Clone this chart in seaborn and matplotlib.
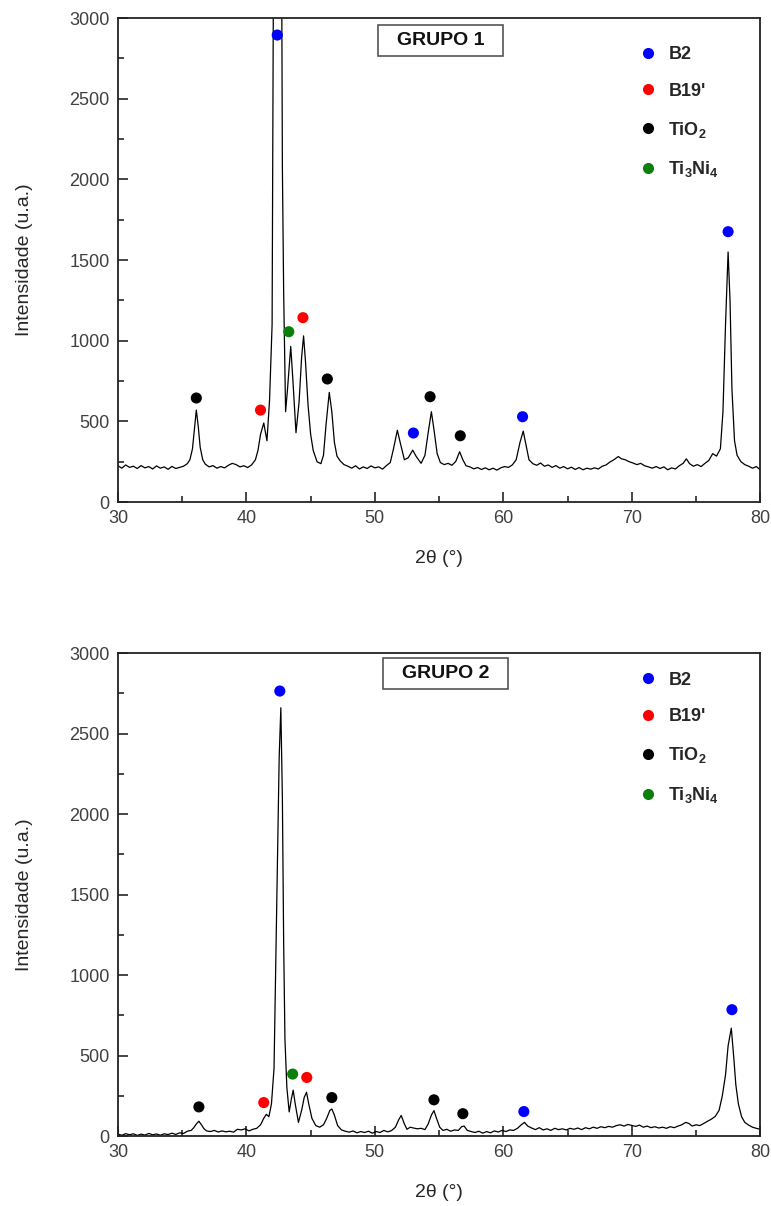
import numpy as np
import pandas as pd
import matplotlib
matplotlib.use('Agg')
import matplotlib.pyplot as plt
import seaborn as sns
from matplotlib.patches import Rectangle
from matplotlib.ticker import MultipleLocator

sns.set_style('ticks')
plt.rcParams['font.family'] = ['Liberation Sans', 'DejaVu Sans']
plt.rcParams['mathtext.fontset'] = 'custom'
plt.rcParams['mathtext.rm'] = 'Liberation Sans'
plt.rcParams['mathtext.bf'] = 'Liberation Sans:bold'
plt.rcParams['mathtext.default'] = 'bf'

# fases (rótulos da legenda) e cores
fases = ['B2', "B19'", 'TiO$_2$', 'Ti$_3$Ni$_4$']
cores = {'B2': '#0000ff', "B19'": '#ff0000', 'TiO$_2$': '#000000', 'Ti$_3$Ni$_4$': '#0a800a'}

# Grupo 1 - difratograma
g1_x = [30.0, 30.3, 30.6, 30.9, 31.2, 31.5, 31.8, 32.1, 32.4, 32.7, 33.0, 33.3, 33.6, 33.9,
        34.2, 34.5, 34.8, 35.1, 35.4, 35.6, 35.8, 35.95, 36.1, 36.25, 36.4, 36.6, 36.8,
        37.1, 37.4, 37.7, 38.0, 38.3, 38.6, 38.9, 39.2, 39.5, 39.8, 40.1, 40.4, 40.7, 40.9,
        41.1, 41.35, 41.6, 41.8, 42.0, 42.1, 42.4, 42.75, 42.8, 42.9, 43.05, 43.2, 43.45,
        43.6, 43.86, 44.1, 44.3, 44.45, 44.6, 44.8, 45.0, 45.2, 45.5, 45.8, 46.0, 46.2,
        46.45, 46.65, 46.85, 47.05, 47.3, 47.6, 47.9, 48.2, 48.5, 48.8, 49.1, 49.4, 49.7,
        50.0, 50.3, 50.6, 50.9, 51.2, 51.45, 51.75, 52.0, 52.3, 52.6, 52.95, 53.2, 53.6,
        53.9, 54.15, 54.4, 54.6, 54.85, 55.1, 55.4, 55.7, 56.0, 56.3, 56.6, 56.85, 57.1,
        57.4, 57.7, 58.0, 58.3, 58.6, 58.9, 59.2, 59.5, 59.8, 60.1, 60.4, 60.7, 61.0, 61.3,
        61.55, 61.8, 62.0, 62.3, 62.6, 62.9, 63.2, 63.5, 63.8, 64.1, 64.4, 64.7, 65.0, 65.3,
        65.6, 65.9, 66.2, 66.5, 66.8, 67.1, 67.4, 67.7, 68.0, 68.3, 68.6, 68.95, 69.2, 69.5,
        69.8, 70.1, 70.4, 70.7, 71.0, 71.3, 71.6, 71.9, 72.2, 72.5, 72.8, 73.1, 73.4, 73.7,
        74.0, 74.25, 74.5, 74.8, 75.1, 75.4, 75.7, 76.0, 76.3, 76.6, 76.9, 77.1, 77.3, 77.5,
        77.65, 77.8, 78.0, 78.2, 78.5, 78.8, 79.1, 79.4, 79.7, 80.0]
g1_y = [225, 210, 230, 215, 222, 208, 226, 212, 220, 205, 224, 210, 218, 203,
        221, 208, 215, 222, 238, 262, 330, 450, 570, 470, 340, 262, 235,
        218, 226, 210, 220, 212, 228, 240, 232, 218, 225, 214, 230, 262, 320,
        420, 490, 380, 630, 1100, 3200, 6000, 3200, 2080, 1300, 560, 700, 965,
        780, 430, 620, 900, 1030, 870, 600, 420, 320, 250, 238, 290, 480,
        680, 560, 370, 285, 255, 232, 222, 210, 225, 205, 218, 208, 224,
        212, 218, 204, 226, 245, 330, 445, 360, 262, 275, 322, 285, 240,
        290, 430, 560, 450, 300, 245, 232, 240, 228, 252, 312, 262, 225,
        218, 206, 214, 202, 212, 200, 210, 198, 212, 220, 215, 230, 262, 370,
        440, 340, 262, 238, 228, 242, 222, 230, 215, 226, 210, 220, 206, 216,
        202, 214, 200, 210, 204, 212, 205, 222, 230, 248, 262, 282, 268, 262,
        250, 242, 232, 240, 225, 218, 210, 220, 208, 218, 200, 212, 205, 225,
        240, 268, 238, 222, 232, 220, 240, 258, 300, 285, 330, 560, 1100, 1550,
        1250, 700, 380, 290, 250, 232, 222, 210, 220, 200]

# Grupo 2 - difratograma
g2_x = [30.0, 30.3, 30.6, 30.9, 31.2, 31.5, 31.8, 32.1, 32.4, 32.7, 33.0, 33.3, 33.6, 33.9,
        34.2, 34.5, 34.8, 35.1, 35.4, 35.7, 35.9, 36.1, 36.3, 36.5, 36.7, 36.9, 37.2, 37.5,
        37.8, 38.1, 38.4, 38.7, 39.0, 39.3, 39.6, 39.9, 40.2, 40.5, 40.8, 41.1, 41.35, 41.55,
        41.75, 41.95, 42.15, 42.35, 42.55, 42.68, 42.8, 42.9, 43.0, 43.15, 43.33, 43.5, 43.64,
        43.8, 44.05, 44.3, 44.5, 44.68, 44.85, 45.1, 45.4, 45.7, 46.0, 46.25, 46.5, 46.65,
        46.85, 47.1, 47.4, 47.7, 48.0, 48.3, 48.6, 48.9, 49.2, 49.5, 49.8, 50.1, 50.4, 50.7,
        51.0, 51.3, 51.6, 51.85, 52.05, 52.3, 52.5, 52.75, 53.0, 53.3, 53.6, 53.9, 54.15, 54.4,
        54.6, 54.8, 55.05, 55.3, 55.6, 55.9, 56.2, 56.5, 56.75, 56.95, 57.2, 57.5, 57.8, 58.1,
        58.4, 58.7, 59.0, 59.3, 59.6, 59.9, 60.2, 60.5, 60.8, 61.1, 61.4, 61.65, 61.9, 62.2,
        62.5, 62.8, 63.1, 63.4, 63.7, 64.0, 64.3, 64.6, 64.9, 65.2, 65.5, 65.8, 66.1, 66.4,
        66.7, 67.0, 67.3, 67.6, 67.9, 68.2, 68.5, 68.8, 69.1, 69.4, 69.7, 70.0, 70.3, 70.6,
        70.9, 71.2, 71.5, 71.8, 72.1, 72.4, 72.7, 73.0, 73.3, 73.6, 73.9, 74.2, 74.45, 74.7,
        75.0, 75.3, 75.6, 75.9, 76.2, 76.5, 76.8, 77.05, 77.3, 77.5, 77.75, 77.95, 78.1, 78.3,
        78.55, 78.8, 79.1, 79.4, 79.7, 80.0]
g2_y = [12, 5, 15, 8, 14, 4, 12, 6, 16, 8, 13, 5, 14, 9,
        18, 10, 20, 16, 30, 35, 52, 75, 92, 70, 45, 32, 28, 35,
        25, 32, 26, 30, 24, 42, 38, 45, 32, 42, 48, 70, 110, 135,
        120, 200, 420, 1400, 2350, 2660, 2100, 1200, 600, 300, 150, 230, 285,
        200, 85, 160, 240, 272, 200, 110, 65, 55, 70, 110, 160, 168,
        130, 65, 38, 30, 24, 32, 20, 28, 22, 30, 18, 28, 22, 35,
        26, 34, 55, 100, 128, 75, 42, 55, 50, 45, 48, 40, 75, 130,
        158, 110, 55, 35, 42, 30, 38, 35, 58, 62, 35, 28, 22, 30,
        18, 28, 20, 32, 25, 35, 28, 38, 35, 48, 70, 85, 62, 50,
        40, 52, 38, 45, 35, 48, 40, 45, 38, 48, 42, 50, 40, 52,
        45, 55, 48, 58, 52, 60, 55, 65, 70, 62, 72, 66, 60, 68,
        55, 62, 52, 58, 50, 55, 48, 58, 52, 62, 70, 85, 78, 62,
        70, 65, 78, 92, 105, 122, 160, 250, 380, 560, 670, 480, 320, 200,
        120, 85, 68, 55, 48, 42]

# marcadores das fases
m1_x = [36.1, 41.1, 42.4, 43.3, 44.4, 46.3, 53.0, 54.3, 56.65, 61.5, 77.5]
m1_y = [645, 570, 2895, 1056, 1143, 763, 428, 653, 411, 529, 1676]
m1_fase = ['TiO$_2$', "B19'", 'B2', 'Ti$_3$Ni$_4$', "B19'", 'TiO$_2$', 'B2', 'TiO$_2$',
           'TiO$_2$', 'B2', 'B2']

m2_x = [36.3, 41.35, 42.6, 43.6, 44.7, 46.65, 54.6, 56.85, 61.6, 77.8]
m2_y = [181, 208, 2764, 385, 364, 239, 225, 139, 152, 785]
m2_fase = ['TiO$_2$', "B19'", 'B2', 'Ti$_3$Ni$_4$', "B19'", 'TiO$_2$', 'TiO$_2$', 'TiO$_2$',
           'B2', 'B2']

fig = plt.figure(figsize=(7.71, 12.06), dpi=100)
ax1 = fig.add_axes([0.153, 0.5837, 0.833, 0.4013])
ax2 = fig.add_axes([0.153, 0.0580, 0.833, 0.4005])


def desenha(ax, x, y, mx, my, mfase, titulo, caixa, leg_y):
    sns.lineplot(x=x, y=y, color='black', lw=0.9, estimator=None, sort=False, ax=ax)
    df = pd.DataFrame({'x': mx, 'y': my, 'fase': mfase})
    sns.scatterplot(data=df, x='x', y='y', hue='fase', hue_order=fases, palette=cores,
                    s=64, edgecolor='none', ax=ax, zorder=3, clip_on=False)
    ax.set_xlim(30, 80)
    ax.set_ylim(0, 3000)
    ax.xaxis.set_major_locator(MultipleLocator(10))
    ax.xaxis.set_minor_locator(MultipleLocator(5))
    ax.yaxis.set_major_locator(MultipleLocator(500))
    ax.yaxis.set_minor_locator(MultipleLocator(250))
    ax.tick_params(which='major', direction='in', length=7, width=1.2, labelsize=13,
                   labelcolor='#404040', pad=6, top=False, right=False)
    ax.tick_params(which='minor', direction='in', length=4, width=1.2, top=False, right=False)
    for s in ax.spines.values():
        s.set_linewidth(1.3)
        s.set_color('#222222')
    ax.set_xlabel('2θ (°)', fontsize=14, labelpad=16)
    ax.set_ylabel('Intensidade (u.a.)', fontsize=14, labelpad=26)

    # caixa com o nome do grupo
    ax.add_patch(Rectangle((caixa[0], caixa[1]), 0.195, 0.064, transform=ax.transAxes,
                           fill=False, edgecolor='#555555', lw=1.2, zorder=4))
    ax.text(caixa[0] + 0.0975, caixa[1] + 0.032, titulo, transform=ax.transAxes,
            ha='center', va='center', fontsize=14, fontweight='bold', color='#111111')

    h, l = ax.get_legend_handles_labels()
    ax.legend(h, l, loc='upper left', bbox_to_anchor=(0.795, leg_y), frameon=False,
              prop={'weight': 'bold', 'size': 13}, handlelength=1.0, handletextpad=0.6,
              labelspacing=1.1, borderaxespad=0.2)


desenha(ax1, g1_x, g1_y, m1_x, m1_y, m1_fase, 'GRUPO 1', (0.405, 0.9215), 0.965)
desenha(ax2, g2_x, g2_y, m2_x, m2_y, m2_fase, 'GRUPO 2', (0.413, 0.9255), 0.984)

fig.savefig('out.png', dpi=100)
